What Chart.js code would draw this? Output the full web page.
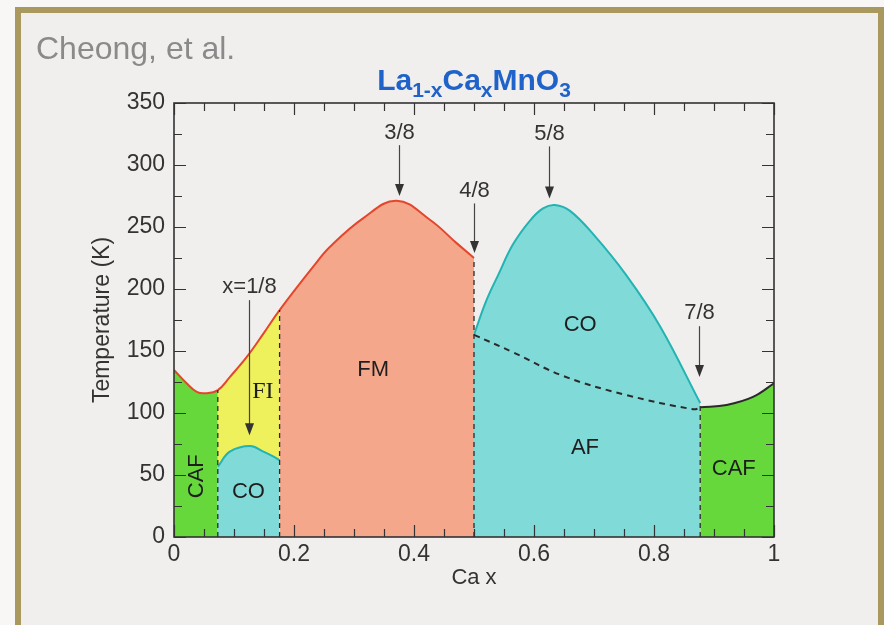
<!DOCTYPE html>
<html>
<head>
<meta charset="utf-8">
<script src="https://cdn.jsdelivr.net/npm/chart.js@4.4.0/dist/chart.umd.min.js"></script>
<style>
  html, body { margin: 0; padding: 0; background: #f8f7f6; }
  #wrap { position: relative; width: 884px; height: 625px; overflow: hidden; }
  #frame { position: absolute; left: 15px; top: 7px; width: 869px; height: 700px;
           border: 6px solid #a9995f; background: #f1efed; box-sizing: border-box; }
  #c { position: absolute; left: 0; top: 0; }
</style>
</head>
<body>
<div id="wrap">
  <div id="frame"></div>
  <canvas id="c" width="884" height="625"></canvas>
</div>
<script>
// Phase diagram of La(1-x)Ca(x)MnO3: Ca fraction x vs temperature (K)

// Transition line bounding CAF / FI / FM from above (x, T)
const tcX = [0, 0.021, 0.038, 0.052, 0.073, 0.093, 0.121, 0.149, 0.176, 0.232, 0.26, 0.315, 0.371, 0.427, 0.471, 0.5];
const tcT = [134.7, 124, 117, 115.9, 118.5, 129, 145, 164, 183, 218, 234, 257, 271.2, 255.6, 237, 225];

// Charge-ordered dome at low doping
const coLowX = [0.073, 0.093, 0.127, 0.149, 0.166, 0.176];
const coLowT = [56.7, 68.8, 73.4, 68.8, 64.8, 62];

// Charge-ordering transition at high doping
const coHighX = [0.5, 0.52, 0.54, 0.565, 0.593, 0.615, 0.635, 0.66, 0.699, 0.754, 0.81, 0.877];
const coHighT = [163, 190, 211, 236, 255, 265, 267.7, 263, 244, 211, 170, 108];

// CO / AF crossover (dashed)
const afX = [0.5, 0.565, 0.648, 0.754, 0.865, 0.877];
const afT = [163, 149, 130, 114.5, 103, 104];

// CAF boundary on the Ca-rich side
const cafX = [0.877, 0.921, 0.965, 1];
const cafT = [104.6, 106.5, 113, 124];

// Vertical phase borders (x, upper T)
const borderX = [0.073, 0.176, 0.5, 0.877];
const borderT = [118.5, 183, 225, 108];

// Commensurate fillings marked with arrows
const arrowX = [0.125, 0.375, 0.5, 0.625, 0.875];
const arrowText = ['x=1/8', '3/8', '4/8', '5/8', '7/8'];
const arrowLabelT = [202, 326, 279, 325, 181];
const arrowTopT = [191, 316, 269, 315, 170];
const arrowTipT = [82, 275, 229, 273, 129];

// Phase names
const phaseText = ['CAF', 'CO', 'FI', 'FM', 'CO', 'AF', 'CAF'];
const phaseX = [0.038, 0.124, 0.148, 0.332, 0.677, 0.685, 0.933];
const phaseT = [49, 36, 117, 134.7, 171, 71.7, 54.8];

// Axis ticks
const xTicks = [0, 0.2, 0.4, 0.6, 0.8, 1];
const yTicks = [0, 50, 100, 150, 200, 250, 300, 350];

const GREEN = '#66d83c', YELLOW = '#eef05c', SALMON = '#f5a78c', CYAN = '#80dad8';
const RED = '#e4462c', TEAL = '#22b3b3', INK = '#2a2a2a';
const FONT = '"Liberation Sans", Arial, Helvetica, sans-serif';

const pts = (xs, ts) => xs.map((v, i) => ({ x: v, y: ts[i] }));

const datasets = [];

// Upper transition line; filled below, coloured by phase
datasets.push({
  data: pts(tcX, tcT),
  borderColor: RED, borderWidth: 2,
  backgroundColor: SALMON,
  fill: 'origin',
  tension: 0.4,
  pointRadius: 0,
  order: 10,
  segment: {
    backgroundColor: c => c.p0.parsed.x < borderX[0] - 1e-9 ? GREEN
                        : c.p0.parsed.x < borderX[1] - 1e-9 ? YELLOW : SALMON
  }
});

// Low-doping CO dome
datasets.push({
  data: pts(coLowX, coLowT),
  borderColor: TEAL, borderWidth: 2,
  backgroundColor: CYAN, fill: 'origin',
  tension: 0.4, pointRadius: 0, order: 9
});

// High-doping CO / AF region
datasets.push({
  data: pts(coHighX, coHighT),
  borderColor: TEAL, borderWidth: 2,
  backgroundColor: CYAN, fill: 'origin',
  tension: 0.4, pointRadius: 0, order: 10
});

// Ca-rich CAF region
datasets.push({
  data: pts(cafX, cafT),
  borderColor: INK, borderWidth: 2,
  backgroundColor: GREEN, fill: 'origin',
  tension: 0.4, pointRadius: 0, order: 10
});

// CO / AF dashed crossover
datasets.push({
  data: pts(afX, afT),
  borderColor: INK, borderWidth: 2, borderDash: [6, 5],
  fill: false, tension: 0.4, pointRadius: 0, order: 5
});

// Dashed vertical phase borders
borderX.forEach((bx, i) => {
  datasets.push({
    data: [{ x: bx, y: 0 }, { x: bx, y: borderT[i] }],
    borderColor: INK, borderWidth: 1.3, borderDash: [5, 4],
    fill: false, pointRadius: 0, order: 4
  });
});

function arrowDown(ctx, px, y0, y1) {
  const head = 12, half = 4.5;
  ctx.beginPath();
  ctx.moveTo(px, y0);
  ctx.lineTo(px, y1 - head + 1);
  ctx.stroke();
  ctx.beginPath();
  ctx.moveTo(px, y1);
  ctx.lineTo(px - half, y1 - head);
  ctx.lineTo(px + half, y1 - head);
  ctx.closePath();
  ctx.fill();
}

const decor = {
  id: 'decor',
  afterDatasetsDraw(chart) {
    const { ctx, chartArea: a, scales: { x, y } } = chart;
    ctx.save();
    ctx.strokeStyle = '#333';
    ctx.lineWidth = 1.2;
    // inward tick marks on all four sides
    ctx.beginPath();
    for (let i = 0; i <= 20; i++) {
      const px = Math.round(x.getPixelForValue(i * 0.05)) + 0.5;
      const len = i % 4 === 0 ? 12 : 8;
      ctx.moveTo(px, a.bottom); ctx.lineTo(px, a.bottom - len);
      ctx.moveTo(px, a.top); ctx.lineTo(px, a.top + len);
    }
    for (let i = 0; i <= 14; i++) {
      const py = Math.round(y.getPixelForValue(i * 25)) + 0.5;
      const len = i % 2 === 0 ? 12 : 8;
      ctx.moveTo(a.left, py); ctx.lineTo(a.left + len, py);
      ctx.moveTo(a.right, py); ctx.lineTo(a.right - len, py);
    }
    ctx.stroke();
    // frame
    ctx.lineWidth = 1.6;
    ctx.strokeStyle = '#333';
    ctx.strokeRect(a.left, a.top, a.right - a.left, a.bottom - a.top);

    // arrows and their labels
    ctx.fillStyle = '#333';
    ctx.strokeStyle = '#444';
    ctx.lineWidth = 1.2;
    ctx.font = '22px ' + FONT;
    ctx.textAlign = 'center';
    ctx.textBaseline = 'middle';
    arrowX.forEach((ax, i) => {
      const px = Math.round(x.getPixelForValue(ax)) + 0.5;
      arrowDown(ctx, px, y.getPixelForValue(arrowTopT[i]), y.getPixelForValue(arrowTipT[i]));
      ctx.fillText(arrowText[i], px, y.getPixelForValue(arrowLabelT[i]));
    });

    // phase names
    ctx.fillStyle = '#1e1e1e';
    phaseText.forEach((t, i) => {
      const px = x.getPixelForValue(phaseX[i]);
      const py = y.getPixelForValue(phaseT[i]);
      if (i === 0) {
        ctx.save();
        ctx.translate(px, py);
        ctx.rotate(-Math.PI / 2);
        ctx.font = '22px ' + FONT;
        ctx.fillText(t, 0, 0);
        ctx.restore();
      } else if (t === 'FI') {
        ctx.font = '24px "Liberation Serif", "Times New Roman", serif';
        ctx.fillText(t, px, py);
      } else {
        ctx.font = '22px ' + FONT;
        ctx.fillText(t, px, py);
      }
    });
    ctx.restore();
  },
  afterDraw(chart) {
    const { ctx } = chart;
    ctx.save();
    // author credit
    ctx.fillStyle = '#8a8a8a';
    ctx.font = '32px ' + FONT;
    ctx.textAlign = 'left';
    ctx.textBaseline = 'alphabetic';
    ctx.fillText('Cheong, et al.', 36, 59);

    // compound formula with subscripts
    const parts = [['La', 0], ['1-x', 1], ['Ca', 0], ['x', 1], ['MnO', 0], ['3', 1]];
    const big = 'bold 30px ' + FONT, small = 'bold 21px ' + FONT;
    let w = 0;
    parts.forEach(([t, s]) => { ctx.font = s ? small : big; w += ctx.measureText(t).width; });
    let cx = 474 - w / 2;
    ctx.fillStyle = '#1f62c9';
    parts.forEach(([t, s]) => {
      ctx.font = s ? small : big;
      ctx.fillText(t, cx, s ? 97 : 90);
      cx += ctx.measureText(t).width;
    });
    ctx.restore();
  }
};

new Chart(document.getElementById('c'), {
  type: 'line',
  data: { datasets },
  options: {
    responsive: false,
    animation: false,
    events: [],
    layout: { padding: { left: 84, right: 110, top: 103, bottom: 31 } },
    plugins: { legend: { display: false }, tooltip: { enabled: false }, filler: { propagate: false } },
    scales: {
      x: {
        type: 'linear', min: 0, max: 1,
        afterFit: s => { s.height = 57; },
        afterBuildTicks: s => { s.ticks = xTicks.map(v => ({ value: v })); },
        grid: { display: false, drawTicks: false },
        border: { display: false },
        ticks: { padding: 4, color: '#333', font: { family: FONT, size: 23 },
                 callback: v => String(v) },
        title: { display: true, text: 'Ca x', color: '#333', padding: { top: 0, bottom: 3 },
                 font: { family: FONT, size: 22 } }
      },
      y: {
        type: 'linear', min: 0, max: 350,
        afterFit: s => { s.width = 90; },
        afterBuildTicks: s => { s.ticks = yTicks.map(v => ({ value: v })); },
        grid: { display: false, drawTicks: false },
        border: { display: false },
        ticks: { padding: 9, color: '#333', font: { family: FONT, size: 23 } },
        title: { display: true, text: 'Temperature (K)', color: '#333', padding: { top: 5, bottom: 0 },
                 font: { family: FONT, size: 23 } }
      }
    }
  },
  plugins: [decor]
});
</script>
</body>
</html>
